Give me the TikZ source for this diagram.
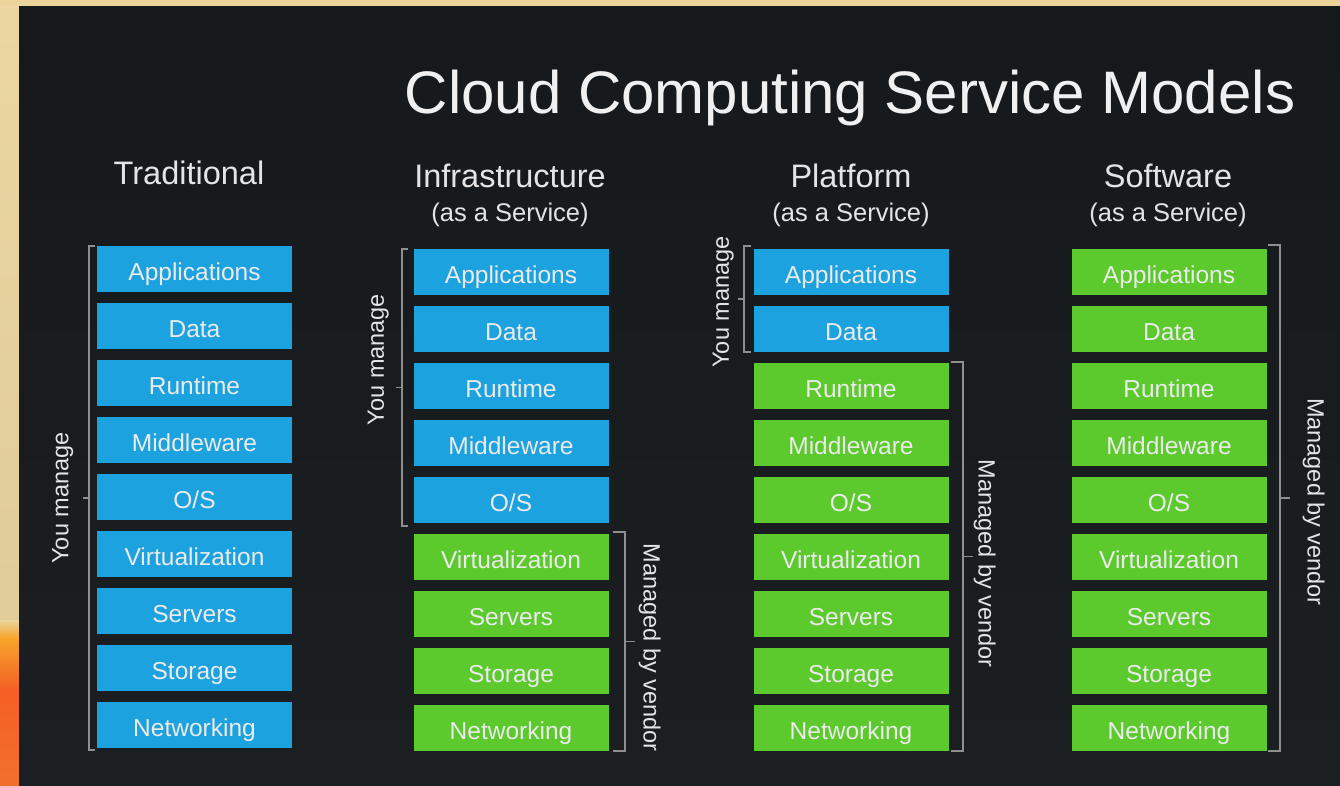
\documentclass[tikz,border=0pt]{standalone}
\usepackage{fontspec}
\setmainfont{Liberation Sans}
\usetikzlibrary{calc}

\definecolor{frameBeige}{HTML}{EAD49C}
\definecolor{frameOrange}{HTML}{F7A52B}
\definecolor{frameRed}{HTML}{F2702B}
\definecolor{slideBg}{HTML}{16191C}
\definecolor{slideBgLow}{HTML}{1C1F22}
\definecolor{layerBlue}{HTML}{1CA2DF}
\definecolor{layerGreen}{HTML}{5CC92C}
\definecolor{braceGray}{HTML}{8F8F8F}
\definecolor{softWhite}{HTML}{E4E4E4}

\tikzset{
  layer/.style={minimum width=195pt, minimum height=46pt, inner sep=0pt,
    text height=23.5pt, text depth=0pt,
    font=\fontsize{24.5}{26}\selectfont, text=white!92!black},
  own/.style={layer, fill=layerBlue},
  vendor/.style={layer, fill=layerGreen},
  brk/.style={draw=braceGray, line width=1.8pt},
  sidelbl/.style={font=\fontsize{23.5}{25}\selectfont, text=softWhite, inner sep=0pt},
  head/.style={font=\fontsize{32.5}{34}\selectfont, text=softWhite, anchor=base, inner sep=0pt},
  subhead/.style={font=\fontsize{25.5}{27}\selectfont, text=softWhite, anchor=base, inner sep=0pt},
}

\begin{document}
\begin{tikzpicture}[x=1pt, y=-1pt]
  \useasboundingbox (0,0) rectangle (1340,785);

  % frame around the slide
  \fill[frameBeige] (0,0) rectangle (1340,785);
  \shade[top color=frameBeige!95!white, bottom color=frameBeige!90!gray] (0,6) rectangle (19,620);
  \shade[top color=frameBeige, bottom color=frameOrange] (0,620) rectangle (19,638);
  \shade[top color=frameOrange, bottom color=frameRed!85!red] (0,638) rectangle (19,690);
  \shade[top color=frameRed!85!red, bottom color=frameRed] (0,690) rectangle (19,785);

  % slide
  \shade[top color=slideBg, bottom color=slideBgLow] (19,6) rectangle (1340,785);

  % titles
  \node[anchor=base, inner sep=0pt, text=white!94!black,
        font=\fontsize{60}{64}\selectfont] (title) at (850,113) {Cloud Computing Service Models};

  \node[head] (hTrad) at (189,184) {Traditional};
  \node[head] (hIaas) at (510,187) {Infrastructure};
  \node[subhead] (sIaas) at (510,221) {(as a Service)};
  \node[head] (hPaas) at (851,187) {Platform};
  \node[subhead] (sPaas) at (851,221) {(as a Service)};
  \node[head] (hSaas) at (1168,187) {Software};
  \node[subhead] (sSaas) at (1168,221) {(as a Service)};

  % layer stacks
  \foreach \lab [count=\k] in {Applications,Data,Runtime,Middleware,O/S,Virtualization,Servers,Storage,Networking} {
    \node[own] (t\k) at (194.5, 269+57*\k-57) {\lab};
    \ifnum\k<6
      \node[own] (i\k) at (511, 272+57*\k-57) {\lab};
    \else
      \node[vendor] (i\k) at (511, 272+57*\k-57) {\lab};
    \fi
    \ifnum\k<3
      \node[own] (p\k) at (851, 272+57*\k-57) {\lab};
    \else
      \node[vendor] (p\k) at (851, 272+57*\k-57) {\lab};
    \fi
    \node[vendor] (s\k) at (1169, 272+57*\k-57) {\lab};
  }

  % Traditional: you manage everything
  \coordinate (tA) at ($(t1.north west)+(-8,0)$);
  \coordinate (tB) at ($(t9.south west)+(-8,2)$);
  \draw[brk] ($(tA)+(6,0)$) -- (tA) -- (tB) -- ++(6,0);
  \draw[brk] ($(tA)!.5!(tB)$) -- ++(-6,0);
  \node[sidelbl, rotate=90] (lblT) at ($(tA)!.5!(tB)+(-26,0)$) {You manage};

  % Infrastructure as a Service
  \coordinate (iA) at ($(i1.north west)+(-11,0)$);
  \coordinate (iB) at ($(i5.south west)+(-11,3)$);
  \draw[brk] ($(iA)+(6,0)$) -- (iA) -- (iB) -- ++(6,0);
  \draw[brk] ($(iA)!.5!(iB)$) -- ++(-6,0);
  \node[sidelbl, rotate=90] (lblI1) at ($(iA)!.5!(iB)+(-24,-28)$) {You manage};

  \coordinate (iC) at ($(i6.north east)+(16,-2)$);
  \coordinate (iD) at ($(i9.south east)+(16,0)$);
  \draw[brk] ($(iC)+(-12,0)$) -- (iC) -- (iD) -- ++(-12,0);
  \draw[brk] ($(iC)!.5!(iD)$) -- ++(10,0);
  \node[sidelbl, rotate=-90] (lblI2) at ($(iC)!.5!(iD)+(25,6)$) {Managed by vendor};

  % Platform as a Service
  \coordinate (pA) at ($(p1.north west)+(-9,-3)$);
  \coordinate (pB) at ($(p2.south west)+(-9,0)$);
  \draw[brk] ($(pA)+(7,0)$) -- (pA) -- (pB) -- ++(7,0);
  \draw[brk] ($(pA)!.5!(pB)$) -- ++(-6,0);
  \node[sidelbl, rotate=90] (lblP1) at ($(pA)!.5!(pB)+(-21,3)$) {You manage};

  \coordinate (pC) at ($(p3.north east)+(14,-1)$);
  \coordinate (pD) at ($(p9.south east)+(14,0)$);
  \draw[brk] ($(pC)+(-12,0)$) -- (pC) -- (pD) -- ++(-12,0);
  \draw[brk] ($(pC)!.5!(pD)$) -- ++(10,0);
  \node[sidelbl, rotate=-90] (lblP2) at ($(pC)!.5!(pD)+(22,7)$) {Managed by vendor};

  % Software as a Service
  \coordinate (sA) at ($(s1.north east)+(13,-4)$);
  \coordinate (sB) at ($(s9.south east)+(13,0)$);
  \draw[brk] ($(sA)+(-12,0)$) -- (sA) -- (sB) -- ++(-12,0);
  \draw[brk] ($(sA)!.5!(sB)$) -- ++(10,0);
  \node[sidelbl, rotate=-90] (lblS) at ($(sA)!.5!(sB)+(34,4)$) {Managed by vendor};
\end{tikzpicture}
\end{document}
